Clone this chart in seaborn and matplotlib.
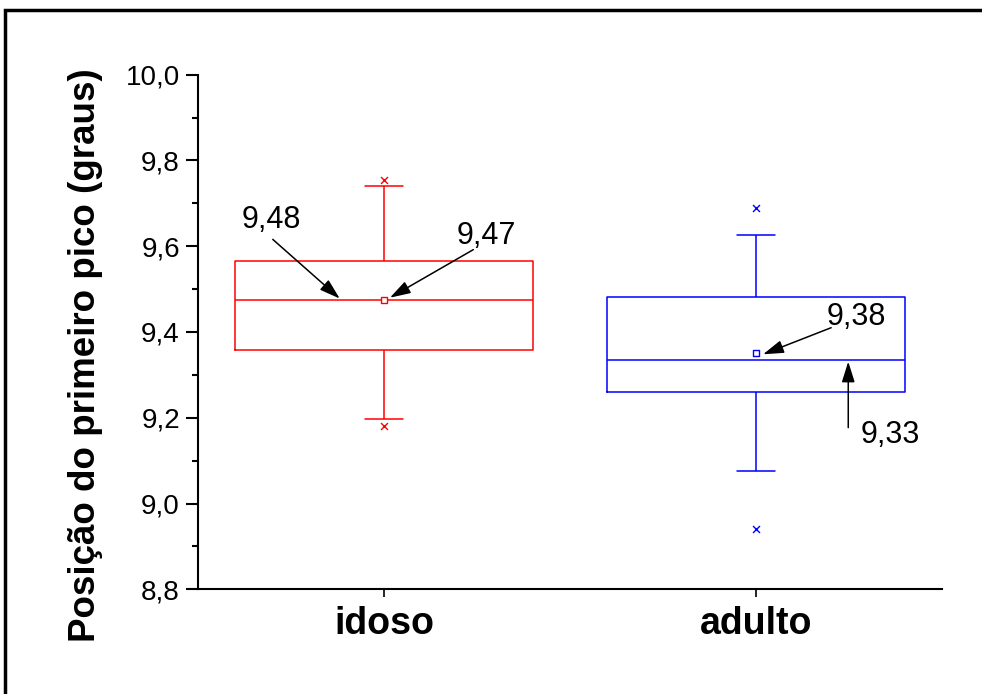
import matplotlib
matplotlib.use('Agg')
import matplotlib.pyplot as plt
import matplotlib.ticker as ticker
from matplotlib.patches import Rectangle
import pandas as pd
import seaborn as sns

# data
grupos = ['idoso', 'adulto']
cores = ['#ff0000', '#0000ff']
whisker_min = [9.197, 9.077]
quartil_1 = [9.357, 9.261]
mediana = [9.475, 9.335]
quartil_3 = [9.565, 9.481]
whisker_max = [9.741, 9.627]
media = [9.475, 9.352]
perc_1 = [9.181, 8.941]
perc_99 = [9.754, 9.688]
rotulos = ['9,48', '9,47', '9,38', '9,33']

# long table: the five box statistics per group, so the box spans them exactly
linhas = []
for i, g in enumerate(grupos):
    for v in (whisker_min[i], quartil_1[i], mediana[i], quartil_3[i], whisker_max[i]):
        linhas.append({'grupo': g, 'valor': v})
box_df = pd.DataFrame(linhas)

sns.set_theme(style='ticks')
plt.rcParams['font.family'] = ['Liberation Sans', 'DejaVu Sans']
for k in ('text.color', 'axes.labelcolor', 'xtick.color', 'ytick.color', 'axes.edgecolor'):
    plt.rcParams[k] = 'black'

fig = plt.figure(figsize=(9.82, 6.94), dpi=100)
ax = fig.add_axes([198 / 982, 1 - 589.3 / 694, 744 / 982, 514.6 / 694])

sns.boxplot(data=box_df, x='grupo', y='valor', hue='grupo', order=grupos,
            palette=cores, whis=(0, 100), width=0.8, fill=False,
            linewidth=1.1, legend=False, ax=ax, capwidths=0.1)


def marcadores(valores, marker, aberto):
    n0 = len(ax.collections)
    sns.stripplot(x=grupos, y=valores, hue=grupos, order=grupos, palette=cores,
                  marker=marker, jitter=False, size=5, linewidth=1, legend=False, ax=ax)
    for j, c in enumerate(ax.collections[n0:]):
        cor = cores[j % len(cores)]
        c.set_edgecolor(cor)
        c.set_facecolor('white' if aberto else cor)
        c.set_zorder(5)


marcadores(media, 's', True)      # mean (open square)
marcadores(perc_1, 'x', False)    # 1%
marcadores(perc_99, 'x', False)   # 99%

ax.set_xlim(-0.5, 1.5)
ax.set_ylim(8.8, 10.0)
ax.yaxis.set_major_locator(ticker.MultipleLocator(0.2))
ax.yaxis.set_minor_locator(ticker.MultipleLocator(0.1))
ax.yaxis.set_major_formatter(ticker.FuncFormatter(lambda v, p: f'{v:.1f}'.replace('.', ',')))

sns.despine(ax=ax)
for s in ('left', 'bottom'):
    ax.spines[s].set_linewidth(1.5)
ax.tick_params(axis='y', which='major', length=9, width=1.5, labelsize=20, pad=4)
ax.tick_params(axis='y', which='minor', length=4.5, width=1.5)
ax.tick_params(axis='x', which='major', length=6, width=1.2, labelsize=27, pad=6)
for lab in ax.get_xticklabels():
    lab.set_fontweight('bold')

ax.set_xlabel('')
ax.set_ylabel('Posição do primeiro pico (graus)', fontsize=26.5, fontweight='bold')
ax.yaxis.set_label_coords(-0.128, 0.455)

# value annotations (text + arrow)
seta = dict(arrowstyle='-|>,head_length=0.7,head_width=0.22', color='black',
            lw=1.1, mutation_scale=18, shrinkA=0, shrinkB=0)
textos = [(-0.302, 9.662), (0.275, 9.623), (1.270, 9.434), (1.361, 9.159)]
setas = [((-0.299, 9.616), (-0.119, 9.478)),
         ((0.240, 9.592), (0.016, 9.480)),
         ((1.202, 9.410), (1.019, 9.348)),
         ((1.248, 9.177), (1.248, 9.331))]
for rot, (tx, ty), (cauda, ponta) in zip(rotulos, textos, setas):
    ax.text(tx, ty, rot, fontsize=22, ha='center', va='center')
    ax.annotate('', xy=ponta, xytext=cauda, arrowprops=seta)

# outer frame (cut off at right and bottom as in the original page)
fig.patches.append(Rectangle((4.5 / 982, -0.2), 1.5, 1.2 - 9.5 / 694,
                             transform=fig.transFigure, fill=False,
                             edgecolor='black', linewidth=2.5))

fig.savefig('out.png', dpi=100)
plt.close(fig)
